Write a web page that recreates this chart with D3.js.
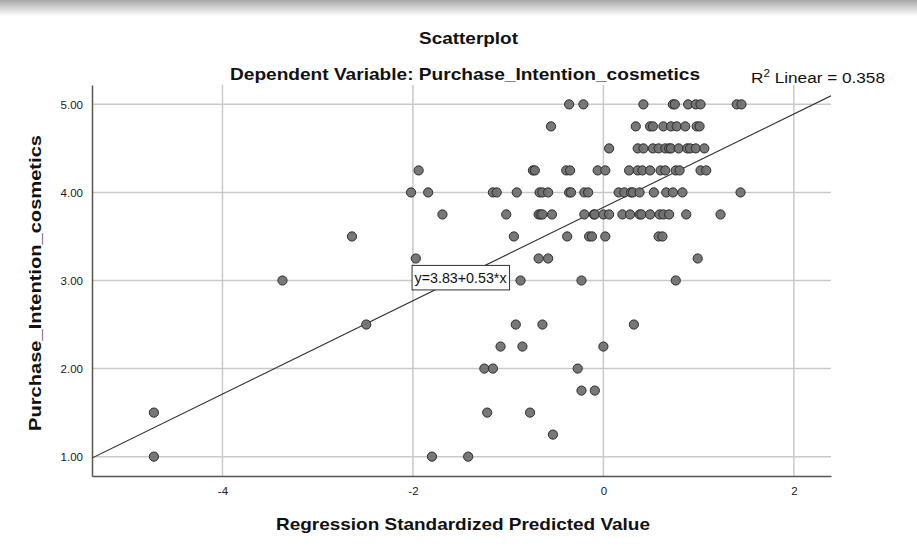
<!DOCTYPE html>
<html>
<head>
<meta charset="utf-8">
<script src="https://cdn.jsdelivr.net/npm/d3@7"></script>
<style>
  body { margin: 0; background: #fff; }
  svg { display: block; font-family: "Liberation Sans", Arial, sans-serif; }
</style>
</head>
<body>
<div id="chart"></div>
<script>
// values, grouped by purchase intention level
var levels = [5.00, 4.75, 4.50, 4.25, 4.00, 3.75, 3.50, 3.25, 3.00, 2.50, 2.25, 2.00, 1.75, 1.50, 1.25, 1.00];
var predicted = [
  [-0.36, -0.21, 0.42, 0.73, 0.75, 0.89, 0.97, 1.02, 1.40, 1.45],
  [-0.55, 0.34, 0.49, 0.52, 0.63, 0.71, 0.77, 0.86, 0.98, 1.01],
  [0.06, 0.36, 0.42, 0.52, 0.58, 0.65, 0.69, 0.71, 0.79, 0.88, 0.91, 0.97, 1.06],
  [-1.94, -0.74, -0.72, -0.39, -0.35, -0.06, 0.02, 0.27, 0.36, 0.41, 0.49, 0.60, 0.65, 0.76, 0.80, 1.02, 1.08],
  [-2.02, -1.84, -1.16, -1.12, -0.91, -0.67, -0.64, -0.58, -0.36, -0.34, -0.20, -0.16, 0.16, 0.22, 0.29, 0.31, 0.38, 0.53, 0.66, 0.73, 0.83, 1.44],
  [-1.69, -1.02, -0.68, -0.66, -0.64, -0.54, -0.20, -0.10, -0.09, 0.00, 0.06, 0.20, 0.28, 0.38, 0.40, 0.49, 0.59, 0.63, 0.69, 0.87, 1.23],
  [-2.64, -0.94, -0.38, -0.15, -0.12, 0.02, 0.58, 0.62],
  [-1.97, -0.68, -0.58, 0.99],
  [-3.37, -0.87, -0.23, 0.76],
  [-2.49, -0.92, -0.64, 0.32],
  [-1.08, -0.85, 0.00],
  [-1.25, -1.16, -0.27],
  [-0.23, -0.09],
  [-4.72, -1.22, -0.77],
  [-0.53],
  [-4.72, -1.80, -1.42]
];
var xTicks = [-4, -2, 0, 2];
var yTicks = [1, 2, 3, 4, 5];
var intercept = 3.83, slope = 0.53;
var rSquared = 0.358;

var data = [];
levels.forEach(function (lv, i) {
  predicted[i].forEach(function (p) { data.push({x: p, y: lv}); });
});

var W = 917, H = 549;
var margin = {top: 85, right: 86, bottom: 73, left: 92},
    width = W - margin.left - margin.right,
    height = H - margin.top - margin.bottom;

var root = d3.select("#chart").append("svg")
    .attr("width", W)
    .attr("height", H);

// top shadow of the screenshot
var grad = root.append("defs").append("linearGradient")
    .attr("id", "shade").attr("x1", 0).attr("y1", 0).attr("x2", 0).attr("y2", 1);
grad.append("stop").attr("offset", "0%").attr("stop-color", "#a8a8a8");
grad.append("stop").attr("offset", "100%").attr("stop-color", "#ffffff");
root.append("rect").attr("x", 0).attr("y", 0).attr("width", W).attr("height", 16)
    .attr("fill", "url(#shade)");

var svg = root.append("g")
    .attr("transform", "translate(" + margin.left + "," + margin.top + ")");

var x = d3.scaleLinear().domain([-5.37, 2.39]).range([0, width]);
var y = d3.scaleLinear().domain([0.78, 5.22]).range([height, 0]);

// grid lines
svg.append("g").selectAll("line.vg").data(xTicks).enter().append("line")
    .attr("x1", function (d) { return x(d); }).attr("x2", function (d) { return x(d); })
    .attr("y1", 0).attr("y2", height)
    .attr("stroke", "#c9c9c9").attr("stroke-width", 1.5);
svg.append("g").selectAll("line.hg").data(yTicks).enter().append("line")
    .attr("x1", 0).attr("x2", width)
    .attr("y1", function (d) { return y(d); }).attr("y2", function (d) { return y(d); })
    .attr("stroke", "#c9c9c9").attr("stroke-width", 1.5);

// axes (plain hyphen for negatives, like the original)
var xAxis = svg.append("g")
    .attr("transform", "translate(0," + height + ")")
    .call(d3.axisBottom(x).tickValues(xTicks).tickSize(0).tickPadding(11)
      .tickFormat(function (d) { return String(d); }));
var yAxis = svg.append("g")
    .call(d3.axisLeft(y).tickValues(yTicks).tickSize(0).tickPadding(9).tickFormat(d3.format(".2f")));
[xAxis, yAxis].forEach(function (a) {
  a.select(".domain").attr("stroke", "#555").attr("stroke-width", 1.5);
  a.selectAll("text").attr("font-size", 11.5).attr("fill", "#1a1a1a")
    .attr("font-family", "'Liberation Sans', Arial, sans-serif");
});

// fit line
var clip = svg.append("clipPath").attr("id", "plotclip");
clip.append("rect").attr("width", width).attr("height", height);
var xd = x.domain();
svg.append("line")
    .attr("clip-path", "url(#plotclip)")
    .attr("x1", x(xd[0])).attr("y1", y(intercept + slope * xd[0]))
    .attr("x2", x(xd[1])).attr("y2", y(intercept + slope * xd[1]))
    .attr("stroke", "#333").attr("stroke-width", 1.2);

// dots
svg.append("g").selectAll("circle").data(data).enter().append("circle")
    .attr("cx", function (d) { return x(d.x); })
    .attr("cy", function (d) { return y(d.y); })
    .attr("r", 4.6)
    .attr("fill", "#717171")
    .attr("fill-opacity", 0.95)
    .attr("stroke", "#2b2b2b")
    .attr("stroke-width", 1);

// equation label on the line
var lx = -1.5;
var lab = svg.append("g")
    .attr("transform", "translate(" + x(lx) + "," + y(intercept + slope * lx) + ")");
lab.append("rect").attr("x", -48.5).attr("y", -12).attr("width", 97.5).attr("height", 24.5)
    .attr("fill", "#fff").attr("stroke", "#333").attr("stroke-width", 1);
lab.append("text").attr("text-anchor", "middle").attr("y", 5.5)
    .attr("font-size", 14.5).attr("fill", "#111")
    .attr("textLength", 92).attr("lengthAdjust", "spacingAndGlyphs")
    .text("y=" + intercept.toFixed(2) + "+" + slope.toFixed(2) + "*x");

// titles
function title(tx, ty, len, str) {
  return root.append("text").attr("x", tx).attr("y", ty).attr("text-anchor", "middle")
    .attr("font-size", 17).attr("font-weight", "bold").attr("fill", "#111")
    .attr("textLength", len).attr("lengthAdjust", "spacingAndGlyphs")
    .text(str);
}
title(468.5, 44, 99, "Scatterplot");
title(465, 80, 470, "Dependent Variable: Purchase_Intention_cosmetics");
title(463, 530, 374, "Regression Standardized Predicted Value");
title(0, 0, 296, "Purchase_Intention_cosmetics")
    .attr("transform", "translate(41,283) rotate(-90)");

var r2 = root.append("text").attr("x", 751).attr("y", 83)
    .attr("font-size", 15.5).attr("fill", "#111")
    .attr("textLength", 134).attr("lengthAdjust", "spacingAndGlyphs");
r2.append("tspan").text("R");
r2.append("tspan").attr("dy", -6).attr("font-size", 10.5).text("2");
r2.append("tspan").attr("dy", 6).text(" Linear = " + rSquared.toFixed(3));
</script>
</body>
</html>
